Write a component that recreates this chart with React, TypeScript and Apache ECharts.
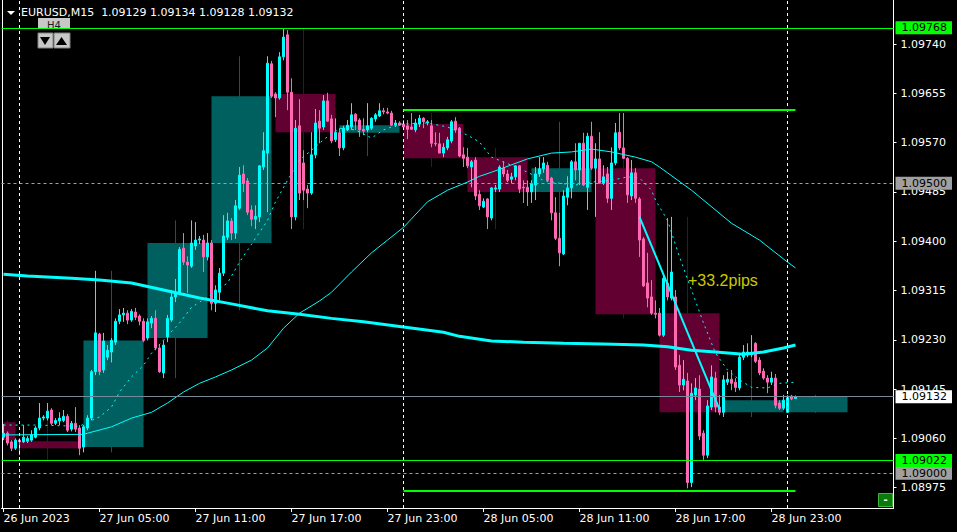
import React, { useEffect, useRef } from 'react';
import * as echarts from 'echarts';

// ---------- axis / categories ----------
const FIRST_BAR_UTC = Date.UTC(2023, 5, 26, 23, 0);
const BAR_MINUTES = 15;
const SLOT_COUNT = 223;
const MONTHS = ['Jan', 'Feb', 'Mar', 'Apr', 'May', 'Jun', 'Jul', 'Aug', 'Sep', 'Oct', 'Nov', 'Dec'];
const pad2 = (n: number) => (n < 10 ? '0' + n : '' + n);
const BAR_TIMES: string[] = Array.from({ length: SLOT_COUNT }, (_, i) => {
  const d = new Date(FIRST_BAR_UTC + i * BAR_MINUTES * 60000);
  return `${d.getUTCDate()} ${MONTHS[d.getUTCMonth()]} ${pad2(d.getUTCHours())}:${pad2(d.getUTCMinutes())}`;
});
const TICK_EVERY = 24;
const TICK_LABELS = ['26 Jun 2023', '27 Jun 05:00', '27 Jun 11:00', '27 Jun 17:00', '27 Jun 23:00', '28 Jun 05:00', '28 Jun 11:00', '28 Jun 17:00', '28 Jun 23:00'];
const Y_MIN = 1.0894;
const Y_MAX = 1.09816;
const Y_TICKS = [1.08975, 1.0906, 1.09145, 1.0923, 1.09315, 1.094, 1.09485, 1.0957, 1.09655, 1.0974];

// ---------- M15 candles ----------
const OPEN = [1.09062,1.09069,1.09054,1.09043,1.09057,1.09054,1.09055,1.09057,1.09062,1.09078,1.09095,1.09095,1.09109,1.09086,1.0909,1.09091,1.09098,1.09076,1.09086,1.09078,
1.09045,1.09078,1.09095,1.09175,1.0924,1.09178,1.092,1.09209,1.09226,1.09262,1.09273,1.09276,1.09264,1.09278,1.09271,1.09262,1.09233,1.09259,1.09267,1.09216,
1.09173,1.09235,1.09264,1.09304,1.09312,1.09388,1.09364,1.09357,1.09392,1.09402,1.09402,1.09373,1.09397,1.09293,1.09312,1.09345,1.09407,1.09435,1.09414,1.09457,
1.09516,1.09504,1.09454,1.09438,1.09442,1.09528,1.09552,1.09706,1.09654,1.09647,1.09718,1.09756,1.09657,1.09442,1.09599,1.09535,1.0949,1.09483,1.09549,1.09607,
1.09597,1.09642,1.09611,1.09575,1.09587,1.09561,1.09592,1.09597,1.09619,1.09609,1.09593,1.09592,1.09595,1.09611,1.09616,1.09625,1.09623,1.09621,1.096,1.09604,
1.09602,1.09599,1.09597,1.09592,1.09602,1.09612,1.09604,1.09599,1.09569,1.09568,1.09552,1.09561,1.09573,1.09607,1.09595,1.09549,1.09545,1.09528,1.0954,1.09481,
1.09459,1.09473,1.0944,1.0949,1.0949,1.09526,1.09516,1.09507,1.09511,1.0953,1.09493,1.09493,1.09485,1.09497,1.09516,1.09525,1.09531,1.09509,1.09449,1.09405,
1.09378,1.09476,1.09492,1.09537,1.09523,1.09569,1.09493,1.09581,1.09526,1.09542,1.095,1.09516,1.09474,1.09535,1.09588,1.09561,1.09543,1.09478,1.09518,1.09473,
1.09404,1.09328,1.09304,1.09276,1.09276,1.09238,1.09328,1.09302,1.09304,1.09186,1.09152,1.09159,1.08984,1.09135,1.09145,1.09069,1.09031,1.09114,1.09164,1.09114,
1.09105,1.09157,1.09162,1.09157,1.09147,1.092,1.09204,1.09204,1.09224,1.09195,1.09176,1.09164,1.09157,1.09164,1.09121,1.09112,1.09105,1.09133,1.09129];
const HIGH = [1.09085,1.09072,1.09057,1.0906,1.0906,1.09083,1.09064,1.09074,1.09081,1.09121,1.091,1.09121,1.09112,1.09095,1.09105,1.09109,1.09102,1.0909,1.09114,1.09083,
1.09083,1.091,1.09178,1.09349,1.09242,1.09242,1.09221,1.09233,1.09267,1.09283,1.09285,1.09281,1.09283,1.09285,1.09274,1.09267,1.09267,1.09271,1.09281,1.09221,
1.09229,1.09273,1.09316,1.09335,1.0939,1.09414,1.09374,1.09436,1.09433,1.09409,1.09411,1.09414,1.09402,1.09324,1.09354,1.09445,1.09449,1.0944,1.09471,1.09528,
1.09531,1.09509,1.09462,1.09462,1.09531,1.09588,1.09719,1.09711,1.09657,1.09726,1.09766,1.09764,1.09681,1.09609,1.09645,1.09557,1.09497,1.09588,1.09628,1.09626,
1.09652,1.09656,1.09618,1.09612,1.09595,1.09599,1.09609,1.09638,1.09621,1.09612,1.09612,1.09638,1.09614,1.09621,1.09638,1.0963,1.0963,1.09625,1.09609,1.09607,
1.09609,1.09609,1.09621,1.09611,1.09618,1.09614,1.09609,1.09609,1.09588,1.09587,1.09569,1.0958,1.09609,1.09614,1.09597,1.09562,1.09561,1.0954,1.09545,1.09488,
1.09474,1.09474,1.09493,1.09497,1.09531,1.09538,1.09523,1.09518,1.09531,1.09531,1.09505,1.09505,1.09505,1.09528,1.09545,1.09545,1.09537,1.09511,1.09476,1.09449,
1.09488,1.09512,1.0954,1.09569,1.09569,1.09587,1.09587,1.09606,1.09569,1.09588,1.09531,1.09528,1.09562,1.09604,1.09621,1.09621,1.09545,1.0954,1.09526,1.09476,
1.09407,1.0938,1.09333,1.09298,1.09285,1.09342,1.0944,1.09442,1.09316,1.09204,1.09195,1.09173,1.09155,1.09164,1.09169,1.09074,1.09126,1.09186,1.09175,1.09135,
1.09169,1.09175,1.09178,1.09164,1.09204,1.09221,1.09224,1.09238,1.09226,1.092,1.09181,1.09169,1.09175,1.09171,1.09126,1.09135,1.09135,1.09135,1.09134];
const LOW = [1.09057,1.09048,1.09038,1.0904,1.09031,1.09052,1.09052,1.09054,1.0906,1.09074,1.09091,1.09091,1.09083,1.09083,1.09083,1.09088,1.09071,1.09072,1.09071,1.09031,
1.09036,1.09074,1.09091,1.09169,1.09169,1.09173,1.09195,1.09191,1.09221,1.09257,1.09261,1.09257,1.09261,1.09264,1.09255,1.09226,1.09229,1.0925,1.09212,1.09173,
1.09164,1.09226,1.09261,1.09295,1.09307,1.09359,1.09311,1.09354,1.09385,1.09395,1.09347,1.09367,1.09281,1.09278,1.09298,1.0934,1.09402,1.09402,1.09404,1.09454,
1.09485,1.09445,1.09426,1.09421,1.09433,1.09523,1.0945,1.09647,1.09614,1.09644,1.09712,1.09626,1.09421,1.09436,1.09471,1.09471,1.09457,1.0948,1.09543,1.09569,
1.09592,1.09606,1.09569,1.09571,1.09547,1.09557,1.0959,1.09592,1.09592,1.0958,1.09583,1.09588,1.09592,1.09606,1.09614,1.09619,1.09619,1.09599,1.09597,1.09599,
1.09592,1.09576,1.09592,1.09588,1.09597,1.09595,1.096,1.09562,1.09564,1.09552,1.09545,1.09557,1.09569,1.09587,1.09545,1.09528,1.09526,1.09493,1.09471,1.09454,
1.09457,1.09421,1.09436,1.09485,1.09485,1.09511,1.09502,1.095,1.09505,1.09483,1.09466,1.09461,1.09466,1.09471,1.09511,1.09518,1.09502,1.09436,1.09402,1.09357,
1.09376,1.09462,1.09474,1.09505,1.09497,1.09495,1.09454,1.09523,1.09442,1.095,1.09497,1.09466,1.09454,1.09531,1.09557,1.09542,1.09466,1.09471,1.09466,1.09373,
1.09321,1.09286,1.09273,1.09267,1.09236,1.09235,1.09298,1.09298,1.09178,1.0914,1.09143,1.08974,1.08976,1.09126,1.09057,1.09023,1.09026,1.09109,1.09105,1.091,
1.09097,1.09152,1.09143,1.0914,1.09143,1.09195,1.092,1.092,1.0919,1.09169,1.09161,1.09138,1.09152,1.09112,1.09109,1.09109,1.09104,1.09126,1.09128];
const CLOSE = [1.09069,1.09052,1.09043,1.09057,1.09054,1.09062,1.0906,1.09066,1.09078,1.09095,1.09097,1.09107,1.09086,1.09091,1.09095,1.09098,1.09074,1.09086,1.09076,1.09043,
1.0908,1.09095,1.09175,1.09242,1.09175,1.09228,1.09212,1.09229,1.09262,1.09273,1.09276,1.09264,1.09279,1.09269,1.09262,1.09229,1.09261,1.09267,1.09216,1.09175,
1.09221,1.09267,1.09304,1.09312,1.09386,1.09364,1.09359,1.09397,1.09402,1.09404,1.09373,1.09397,1.09293,1.09316,1.09345,1.09409,1.09435,1.09414,1.09461,1.09514,
1.095,1.0945,1.09438,1.09443,1.0953,1.09556,1.09707,1.0965,1.09647,1.09718,1.09752,1.09657,1.09442,1.09595,1.09483,1.09488,1.09483,1.09549,1.09604,1.09595,
1.09642,1.09607,1.09573,1.09588,1.09561,1.09595,1.096,1.09618,1.09607,1.09592,1.0959,1.09599,1.09612,1.09618,1.09625,1.09623,1.09621,1.096,1.09604,1.096,
1.09597,1.09593,1.09593,1.09604,1.09612,1.09606,1.09606,1.09569,1.09568,1.09552,1.09562,1.09575,1.09606,1.09592,1.09547,1.09543,1.0953,1.09537,1.09478,1.09461,
1.09469,1.09442,1.09492,1.09492,1.09528,1.09516,1.09505,1.09511,1.0953,1.0949,1.09492,1.09485,1.09499,1.09516,1.09525,1.09535,1.09505,1.09449,1.09405,1.0938,
1.09478,1.09492,1.09537,1.09523,1.09569,1.09497,1.09581,1.09526,1.09542,1.095,1.09511,1.09474,1.09535,1.09587,1.09561,1.09543,1.0948,1.09518,1.09474,1.09402,
1.09323,1.09302,1.09276,1.09274,1.09238,1.09336,1.09304,1.09347,1.09183,1.09152,1.09162,1.08984,1.09138,1.09147,1.09064,1.09031,1.09116,1.09166,1.09114,1.09105,
1.09161,1.09162,1.09155,1.09148,1.092,1.09209,1.09209,1.09207,1.09193,1.09173,1.09164,1.09157,1.09164,1.09117,1.09112,1.09126,1.0913,1.09128,1.09132];

// ---------- H4 candles drawn as boxes (bar index range) ----------
const H4_FROM = [0, 4, 20, 36, 52, 68, 84, 100, 116, 132, 148, 164, 180, 196];
const H4_TO = [3, 19, 35, 51, 67, 83, 99, 115, 131, 147, 163, 179, 195, 211];
const H4_OPEN = [1.09088, 1.09055, 1.09045, 1.09233, 1.09397, 1.09654, 1.09587, 1.09602, 1.09545, 1.09485, 1.09526, 1.09276, 1.09105, 1.09105];
const H4_HIGH = [1.09091, 1.09121, 1.09349, 1.09436, 1.09719, 1.09766, 1.09638, 1.09621, 1.09561, 1.09606, 1.09621, 1.09442, 1.09238, 1.09135];
const H4_LOW = [1.09054, 1.09023, 1.09036, 1.09164, 1.09281, 1.09421, 1.09547, 1.09528, 1.09421, 1.09357, 1.09267, 1.08974, 1.09097, 1.09104];
const H4_CLOSE = [1.09057, 1.09043, 1.09229, 1.09397, 1.0965, 1.09588, 1.096, 1.09543, 1.09485, 1.09526, 1.09274, 1.09105, 1.09126, 1.09132];

// ---------- moving averages, read at sample bars ----------
const MA_SLOW: [number, number][] = [[0,1.09343],[6,1.0934],[17,1.09336],[24,1.09333],[32,1.09328],[40,1.09316],[49,1.09302],[57,1.09292],[66,1.0928],[74,1.09274],[82,1.09267],[90,1.09261],[100,1.09252],[110,1.09243],[114,1.09236],[122,1.09228],[130,1.09226],[140,1.09224],[150,1.09223],[160,1.09221],[166,1.09218],[172,1.09212],[178,1.09209],[185,1.09205],[190,1.09209],[195,1.09216],[198,1.09221]];
const MA_MID: [number, number][] = [[0,1.09066],[20,1.09067],[21,1.09069],[27,1.0908],[32,1.09095],[37,1.09105],[41,1.09121],[45,1.0914],[49,1.09155],[53,1.09166],[57,1.09178],[62,1.09195],[66,1.09216],[70,1.0925],[74,1.09276],[79,1.09297],[82,1.09312],[87,1.09347],[92,1.0938],[96,1.09402],[100,1.09424],[106,1.09468],[111,1.09488],[116,1.09502],[119,1.09512],[122,1.09519],[131,1.09542],[137,1.09552],[142,1.09554],[147,1.09559],[152,1.09554],[158,1.09545],[162,1.09537],[164,1.09528],[172,1.09488],[182,1.09431],[189,1.09402],[196,1.09364],[198,1.09354]];
const MA_FAST: [number, number][] = [[0,1.09083],[8,1.09083],[19,1.09081],[22,1.09091],[24,1.09097],[27,1.09114],[29,1.0914],[32,1.09166],[35,1.09186],[37,1.09207],[44,1.09259],[47,1.09286],[51,1.09304],[56,1.09328],[59,1.09364],[63,1.09405],[66,1.09436],[68,1.09468],[71,1.09505],[74,1.0954],[77,1.09557],[80,1.09575],[84,1.09595],[88,1.09592],[92,1.09578],[95,1.09592],[99,1.09602],[106,1.09604],[111,1.09597],[116,1.09583],[119,1.09571],[122,1.09545],[127,1.09531],[131,1.09519],[135,1.09505],[139,1.095],[143,1.09497],[147,1.09502],[152,1.09505],[156,1.09511],[159,1.09509],[162,1.09488],[163,1.09471],[166,1.09436],[169,1.09373],[172,1.09316],[175,1.09259],[178,1.09207],[181,1.09178],[184,1.09161],[187,1.09148],[191,1.09147],[194,1.09155],[198,1.09157]];

// ---------- objects on the chart ----------
const ALERT_LEVELS = [1.09768, 1.09022];
const ROUND_LEVELS = [1.095, 1.09];
const BID_PRICE = 1.09132;
const RANGE_LEVELS = [1.09626, 1.0897];
const RANGE_FROM = 100;
const RANGE_TO = 198;
const DAY_SEPARATORS = [4, 100, 196];
const TREND_POINTS: [number, number][] = [[159, 1.09442], [179, 1.0911]];
const PIPS_POINT: [number, number] = [171, 1.09333];
const PIPS_TEXT = '+33.2pips';
const SYMBOL = 'EURUSD';
const TIMEFRAME = 'M15';
const BUTTON_TF = 'H4';

const BULL = '#00ffff';
const BEAR = '#ff69b4';
const H4_BULL = '#006060';
const H4_BEAR = '#620032';
const FONT = 'DejaVu Sans';

function tag(bg: string, v: number) {
  return {
    show: true,
    position: 'end',
    distance: 2,
    formatter: v.toFixed(5),
    color: '#000',
    backgroundColor: bg,
    fontSize: 11,
    fontFamily: FONT,
    lineHeight: 12,
    padding: [1, 5, 0, 6],
  };
}

function hLine(v: number, color: string, type: any, bg: string | null) {
  return {
    yAxis: v,
    lineStyle: { color, type, width: 1 },
    label: bg ? tag(bg, v) : { show: false },
  };
}

export default function App() {
  const ref = useRef<HTMLDivElement>(null);
  useEffect(() => {
    if (!ref.current) return;
    const chart = echarts.init(ref.current, undefined, { renderer: 'svg' });
    const last = OPEN.length - 1;
    const title = `${SYMBOL},${TIMEFRAME}  ${OPEN[last].toFixed(5)} ${HIGH[last].toFixed(5)} ${LOW[last].toFixed(5)} ${CLOSE[last].toFixed(5)}`;
    const h4Data = H4_FROM.map((f, i) => [f, H4_TO[i], H4_OPEN[i], H4_HIGH[i], H4_LOW[i], H4_CLOSE[i]]);
    const candleData = OPEN.map((o, i) => [o, CLOSE[i], LOW[i], HIGH[i]]);

    const sepData = DAY_SEPARATORS.map((k) => ({
      xAxis: BAR_TIMES[k],
      lineStyle: { color: '#ffffff', type: [3, 3], width: 1 },
      label: { show: false },
    }));
    const rangeData = RANGE_LEVELS.map((v) => [
      { coord: [BAR_TIMES[RANGE_FROM], v], lineStyle: { color: '#00ff00', type: 'solid', width: 2 }, label: { show: false } },
      { coord: [BAR_TIMES[RANGE_TO], v] },
    ]);
    const levelSeries = (name: string, items: any[], z: number) => ({
      type: 'line',
      name,
      z,
      data: [],
      silent: true,
      markLine: { symbol: ['none', 'none'], silent: true, animation: false, precision: 5, data: items },
    });

    const option: any = {
      animation: false,
      backgroundColor: '#000000',
      textStyle: { fontFamily: FONT },
      grid: { left: 1.5, right: 63.5, top: 0, bottom: 24, containLabel: false },
      xAxis: {
        type: 'category',
        data: BAR_TIMES,
        boundaryGap: true,
        axisLine: { show: true, lineStyle: { color: '#ffffff', width: 1 } },
        axisTick: {
          show: true,
          alignWithLabel: true,
          length: 4,
          interval: (i: number) => i % TICK_EVERY === 0 && i / TICK_EVERY < TICK_LABELS.length,
          lineStyle: { color: '#ffffff' },
        },
        axisLabel: {
          color: '#ffffff',
          fontSize: 11,
          fontFamily: FONT,
          align: 'left',
          margin: 5,
          interval: (i: number) => i % TICK_EVERY === 0 && i / TICK_EVERY < TICK_LABELS.length,
          formatter: (_v: string, i: number) => (i % TICK_EVERY === 0 ? TICK_LABELS[i / TICK_EVERY] || '' : ''),
        },
        splitLine: { show: false },
      },
      yAxis: [
        {
          type: 'value',
          position: 'right',
          min: Y_MIN,
          max: Y_MAX,
          axisLine: { show: true, lineStyle: { color: '#ffffff', width: 1 } },
          axisTick: { show: true, length: 3, customValues: Y_TICKS, lineStyle: { color: '#ffffff' } },
          axisLabel: {
            color: '#ffffff',
            fontSize: 11,
            fontFamily: FONT,
            margin: 7,
            customValues: Y_TICKS,
            formatter: (v: number) => v.toFixed(5),
          },
          splitLine: { show: false },
        },
        {
          type: 'value',
          position: 'left',
          min: Y_MIN,
          max: Y_MAX,
          offset: -1,
          axisLine: { show: true, lineStyle: { color: '#ffffff', width: 1 } },
          axisTick: { show: false },
          axisLabel: { show: false },
          splitLine: { show: false },
        },
      ],
      series: [
        {
          type: 'custom',
          name: 'H4',
          z: 1,
          silent: true,
          clip: true,
          data: h4Data,
          encode: { x: [0, 1], y: [2, 3, 4, 5] },
          renderItem: (_p: any, api: any) => {
            const s = api.value(0);
            const e = api.value(1);
            const o = api.value(2);
            const h = api.value(3);
            const l = api.value(4);
            const c = api.value(5);
            const color = c >= o ? H4_BULL : H4_BEAR;
            const a = api.coord([s, Math.max(o, c)]);
            const b = api.coord([e, Math.min(o, c)]);
            const m = Math.floor((s + e) / 2);
            const top = api.coord([m, h]);
            const bot = api.coord([m, l]);
            return {
              type: 'group',
              children: [
                { type: 'line', shape: { x1: top[0], y1: top[1], x2: bot[0], y2: bot[1] }, style: { stroke: color, lineWidth: 1 } },
                { type: 'rect', shape: { x: a[0], y: a[1], width: b[0] - a[0], height: Math.max(1, b[1] - a[1]) }, style: { fill: color } },
              ],
            };
          },
        },
        levelSeries('separators', sepData, 2),
        levelSeries('bid', [hLine(BID_PRICE, '#778899', 'solid', '#ffffff')], 2),
        levelSeries('round1', [hLine(ROUND_LEVELS[0], '#a0a0a0', [3, 3], '#a0a0a0')], 2),
        levelSeries('round2', [hLine(ROUND_LEVELS[1], '#a0a0a0', [3, 3], '#a0a0a0')], 2),
        levelSeries('alert1', [hLine(ALERT_LEVELS[0], '#00ff00', 'solid', '#00ff00')], 2),
        levelSeries('alert2', [hLine(ALERT_LEVELS[1], '#00ff00', 'solid', '#00ff00')], 2),
        levelSeries('range', rangeData, 2),
        {
          type: 'candlestick',
          name: 'M15',
          z: 3,
          barWidth: 2,
          data: candleData,
          itemStyle: { color: BULL, color0: BEAR, borderColor: BULL, borderColor0: BEAR, borderWidth: 1 },
        },
        {
          type: 'line',
          name: 'MA slow',
          z: 4,
          data: MA_SLOW,
          symbol: 'none',
          lineStyle: { color: '#00ffff', width: 3 },
        },
        {
          type: 'line',
          name: 'MA mid',
          z: 4,
          data: MA_MID,
          symbol: 'none',
          lineStyle: { color: '#00ffff', width: 1 },
        },
        {
          type: 'line',
          name: 'MA fast',
          z: 4,
          data: MA_FAST,
          symbol: 'none',
          lineStyle: { color: '#00ffff', width: 1, type: [2, 4] },
        },
        {
          type: 'line',
          name: 'Trend',
          z: 5,
          data: TREND_POINTS,
          symbol: 'none',
          lineStyle: { color: '#00ffff', width: 2 },
        },
        {
          type: 'scatter',
          name: 'pips',
          z: 6,
          data: [PIPS_POINT],
          symbolSize: 1,
          itemStyle: { color: 'rgba(0,0,0,0)' },
          label: {
            show: true,
            position: 'right',
            distance: 0,
            formatter: PIPS_TEXT,
            color: '#ffff00',
            fontSize: 16,
            fontFamily: 'Liberation Sans',
          },
        },
      ],
      graphic: [
        { type: 'polygon', shape: { points: [[7, 11], [15, 11], [11, 15]] }, style: { fill: '#ffffff' } },
        { type: 'text', x: 21, y: 12.5, style: { text: title, fill: '#ffffff', font: `11px "${FONT}"`, textVerticalAlign: 'middle' } },
        { type: 'rect', shape: { x: 38, y: 18, width: 32, height: 11 }, style: { fill: '#c8c8c8' } },
        { type: 'text', x: 54, y: 25, style: { text: BUTTON_TF, fill: '#202020', font: `10px "${FONT}"`, textAlign: 'center', textVerticalAlign: 'middle' } },
        { type: 'rect', shape: { x: 38, y: 33, width: 15, height: 15 }, style: { fill: '#c8c8c8', stroke: '#808080', lineWidth: 1 } },
        { type: 'rect', shape: { x: 54, y: 33, width: 16, height: 15 }, style: { fill: '#c8c8c8', stroke: '#808080', lineWidth: 1 } },
        { type: 'polygon', shape: { points: [[40, 37], [50, 37], [45, 45]] }, style: { fill: '#000000' } },
        { type: 'polygon', shape: { points: [[56, 45], [67, 45], [61.5, 37]] }, style: { fill: '#000000' } },
        { type: 'rect', shape: { x: 878.5, y: 493.5, width: 14, height: 13 }, style: { fill: '#0a7a0a', stroke: '#3cb43c', lineWidth: 1 } },
        { type: 'text', x: 885.5, y: 499, style: { text: '-', fill: '#ffffff', font: `bold 10px "${FONT}"`, textAlign: 'center', textVerticalAlign: 'middle' } },
      ],
    };
    chart.setOption(option);
    return () => chart.dispose();
  }, []);
  return (
    <div
      ref={ref}
      style={{ position: 'absolute', left: 0, top: 0, width: 957, height: 532, background: '#000' }}
    />
  );
}
